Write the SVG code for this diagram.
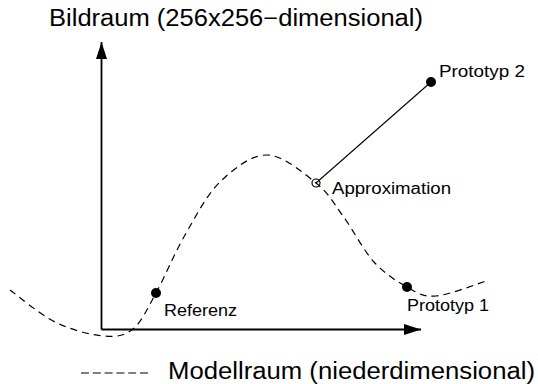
<svg xmlns="http://www.w3.org/2000/svg" width="538" height="384" viewBox="0 0 538 384">
  <style>
    .big { font-family: "Liberation Sans", Arial, sans-serif; font-size: 23px; fill: #000; }
    .lbl { font-family: "Liberation Sans", Arial, sans-serif; font-size: 16px; fill: #000; }
    .axis { stroke: #000; stroke-width: 1.8; fill: none; }
    .dash { stroke: #000; stroke-width: 1.2; fill: none; stroke-dasharray: 7 5; }
    .dot { fill: #000; }
  </style>
  <defs>
    <marker id="arrow" markerUnits="userSpaceOnUse" markerWidth="18" markerHeight="12" refX="17" refY="5.5" orient="auto">
      <path d="M0,0 L17,5.5 L0,11 z" fill="#000"/>
    </marker>
  </defs>
  <rect width="538" height="384" fill="#fff"/>

  <g id="title">
    <text class="big" x="49" y="26" textLength="374" lengthAdjust="spacingAndGlyphs">Bildraum (256x256−dimensional)</text>
  </g>

  <g id="axes">
    <line class="axis" x1="101.5" y1="329.5" x2="101.5" y2="42" marker-end="url(#arrow)"/>
    <line class="axis" x1="101.5" y1="329.5" x2="421" y2="329.5" marker-end="url(#arrow)"/>
  </g>

  <g id="modellraum">
    <path class="dash" d="M10,290 C17.5,295.3 39.5,314.3 55,322 C70.5,329.7 90,334.8 103,336 C116,337.2 124.2,336.2 133,329 C141.8,321.8 147.3,308.7 156,293 C164.7,277.3 174.3,253.5 185,235 C195.7,216.5 206.3,195.3 220,182 C233.7,168.7 251,154.8 267,155 C283,155.2 303.3,172.8 316,183 C328.7,193.2 333.3,202.8 343,216 C352.7,229.2 363.3,250.2 374,262 C384.7,273.8 396.7,281.3 407,287 C417.3,292.7 422.3,297.2 436,296 C449.7,294.8 480.2,282.7 489,280"/>
  </g>

  <g id="connectors">
    <line x1="316" y1="183" x2="431" y2="82" stroke="#000" stroke-width="1.1"/>
  </g>

  <g id="referenz">
    <circle class="dot" cx="156" cy="293" r="5"/>
    <text class="lbl" x="164" y="316" textLength="73" lengthAdjust="spacingAndGlyphs">Referenz</text>
  </g>

  <g id="prototyp1">
    <circle class="dot" cx="407" cy="287" r="5"/>
    <text class="lbl" x="407" y="311" textLength="82" lengthAdjust="spacingAndGlyphs">Prototyp 1</text>
  </g>

  <g id="prototyp2">
    <circle class="dot" cx="431" cy="82" r="5"/>
    <text class="lbl" x="439" y="77" textLength="86" lengthAdjust="spacingAndGlyphs">Prototyp 2</text>
  </g>

  <g id="approximation">
    <circle cx="316" cy="183" r="4" fill="none" stroke="#000" stroke-width="1.2"/>
    <text class="lbl" x="332" y="194" textLength="119" lengthAdjust="spacingAndGlyphs">Approximation</text>
  </g>

  <g id="legend">
    <line x1="81" y1="373" x2="148" y2="373" stroke="#000" stroke-width="1.2" stroke-dasharray="8 3.8"/>
    <text class="big" x="168" y="379" textLength="367" lengthAdjust="spacingAndGlyphs">Modellraum (niederdimensional)</text>
  </g>
</svg>
